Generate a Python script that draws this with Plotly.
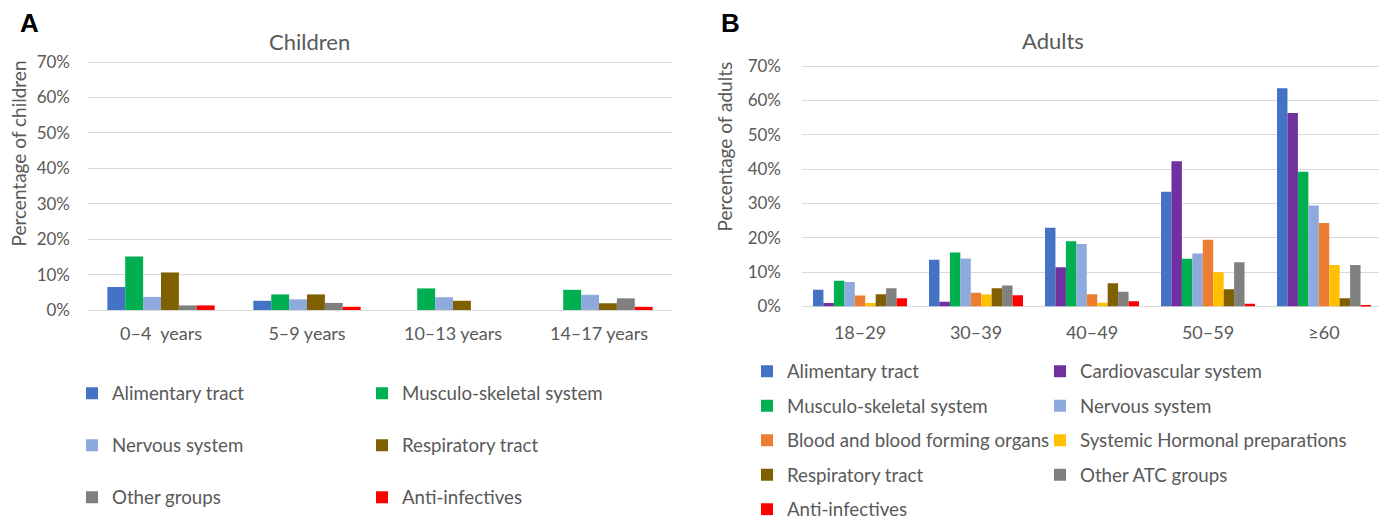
import plotly.graph_objects as go

# ---------------- data ----------------
child_groups = ["0–4 \u00a0years", "5–9 years", "10–13 years", "14–17 years"]
child_series = ["Alimentary tract", "Musculo-skeletal system", "Nervous system",
                "Respiratory tract", "Other groups", "Anti-infectives"]
child_alimentary = [6.5, 2.6, None, None]
child_musculo = [15.1, 4.4, 6.1, 5.7]
child_nervous = [3.7, 3.0, 3.6, 4.3]
child_respiratory = [10.6, 4.4, 2.6, 1.9]
child_other = [1.3, 2.0, None, 3.3]
child_antiinf = [1.3, 0.9, None, 0.9]

adult_groups = ["18–29", "30–39", "40–49", "50–59", "≥60"]
adult_series = ["Alimentary tract", "Cardiovascular system", "Musculo-skeletal system",
                "Nervous system", "Blood and blood forming organs",
                "Systemic Hormonal preparations", "Respiratory tract",
                "Other ATC groups", "Anti-infectives"]
adult_alimentary = [4.9, 13.6, 22.9, 33.4, 63.5]
adult_cardio = [1.0, 1.4, 11.4, 42.3, 56.3]
adult_musculo = [7.5, 15.7, 19.0, 13.9, 39.2]
adult_nervous = [7.1, 14.0, 18.2, 15.4, 29.4]
adult_blood = [3.2, 4.0, 3.6, 19.4, 24.3]
adult_hormonal = [1.0, 3.5, 1.1, 10.0, 12.1]
adult_respiratory = [3.6, 5.3, 6.8, 5.0, 2.4]
adult_other = [5.3, 6.1, 4.3, 12.9, 12.1]
adult_antiinf = [2.4, 3.3, 1.5, 0.8, 0.4]

y_ticks = [0, 10, 20, 30, 40, 50, 60, 70]
y_tick_labels = ["0%", "10%", "20%", "30%", "40%", "50%", "60%", "70%"]

# ---------------- styles ----------------
COL = {
    "Alimentary tract": "#4472C4",
    "Cardiovascular system": "#7030A0",
    "Musculo-skeletal system": "#00B050",
    "Nervous system": "#8EA9DB",
    "Blood and blood forming organs": "#ED7D31",
    "Systemic Hormonal preparations": "#FFC000",
    "Respiratory tract": "#7F6000",
    "Other groups": "#808080",
    "Other ATC groups": "#808080",
    "Anti-infectives": "#FF0000",
}
FONT = "Lato, 'Noto Sans', sans-serif"
TXT = "#595959"
GRID = "#d9d9d9"
OFF = 8                     # page body margin
W, H = 1387 - OFF, 516 - OFF
LEG_FS = 18.7

child_vals = [child_alimentary, child_musculo, child_nervous,
              child_respiratory, child_other, child_antiinf]
adult_vals = [adult_alimentary, adult_cardio, adult_musculo, adult_nervous,
              adult_blood, adult_hormonal, adult_respiratory, adult_other,
              adult_antiinf]

fig = go.Figure()

cg_w = 0.735
n = len(child_series)
for i, (name, vals) in enumerate(zip(child_series, child_vals)):
    bw = cg_w / n
    fig.add_trace(go.Bar(
        x=child_groups, y=vals, name=name, marker_color=COL[name],
        marker_line_width=0, width=bw, offset=-cg_w / 2 + i * bw,
        xaxis="x", yaxis="y", legend="legend" if i % 2 == 0 else "legend2",
        legendgroup="c%d" % i, hoverinfo="x+y+name"))

ag_w = 0.81
n = len(adult_series)
for i, (name, vals) in enumerate(zip(adult_series, adult_vals)):
    bw = ag_w / n
    fig.add_trace(go.Bar(
        x=adult_groups, y=vals, name=name, marker_color=COL[name],
        marker_line_width=0, width=bw, offset=-ag_w / 2 + i * bw,
        xaxis="x2", yaxis="y2", legend="legend3" if i % 2 == 0 else "legend4",
        legendgroup="a%d" % i, hoverinfo="x+y+name"))


def px(x):
    return (x - OFF) / W


def py(y):
    return 1 - (y - OFF) / H


axis_common = dict(showline=False, ticks="", automargin=False)
yaxis_common = dict(range=[0, 70.3], tickmode="array", tickvals=y_ticks, ticktext=y_tick_labels,
                    showgrid=True, gridcolor=GRID, gridwidth=1.3, zeroline=True,
                    zerolinecolor=GRID, zerolinewidth=1.3,
                    tickfont=dict(family=FONT, size=17, color=TXT), **axis_common)
xtickfont = dict(family=FONT, size=18, color=TXT)

legend_common = dict(orientation="v", xanchor="left", yanchor="top", bgcolor="rgba(0,0,0,0)",
                     font=dict(family=FONT, size=LEG_FS, color=TXT), itemclick=False,
                     itemdoubleclick=False)
item_h = LEG_FS * 1.3 + 3


def ann(text, x, y, size, family=FONT, color=TXT, angle=0):
    return dict(text=text, x=px(x), y=py(y), xref="paper", yref="paper",
                xanchor="center", yanchor="middle", textangle=angle, showarrow=False,
                font=dict(family=family, size=size, color=color))


fig.update_layout(
    width=W, height=H, margin=dict(l=0, r=0, t=0, b=0, autoexpand=False),
    paper_bgcolor="white", plot_bgcolor="white",
    barmode="group", showlegend=True,
    font=dict(family=FONT, color=TXT),
    xaxis=dict(domain=[px(88), px(672)], anchor="y", ticklabelstandoff=11,
               tickfont=xtickfont, **axis_common),
    yaxis=dict(domain=[py(310), py(61)], anchor="x", ticklabelstandoff=17, **yaxis_common),
    xaxis2=dict(domain=[px(802), px(1382)], anchor="y2", ticklabelstandoff=13,
                tickfont=xtickfont, **axis_common),
    yaxis2=dict(domain=[py(306.5), py(65)], anchor="x2", ticklabelstandoff=20, **yaxis_common),
    legend=dict(x=px(72), y=py(374.5), tracegroupgap=52 - item_h, **legend_common),
    legend2=dict(x=px(362), y=py(374.5), tracegroupgap=52 - item_h, **legend_common),
    legend3=dict(x=px(747), y=py(352.5), tracegroupgap=34.5 - item_h, **legend_common),
    legend4=dict(x=px(1040), y=py(352.5), tracegroupgap=34.5 - item_h, **legend_common),
    annotations=[
        ann("<b>A</b>", 29.5, 23, 26, family="Liberation Sans, Arial", color="black"),
        ann("<b>B</b>", 730, 23.5, 26, family="Liberation Sans, Arial", color="black"),
        ann("Children", 309, 41, 22),
        ann("Adults", 1053, 40, 22),
        ann("Percentage of children", 18.5, 154, 19, angle=-90),
        ann("Percentage of adults", 724, 146.5, 19, angle=-90),
    ],
)

fig.write_html("out.html")
